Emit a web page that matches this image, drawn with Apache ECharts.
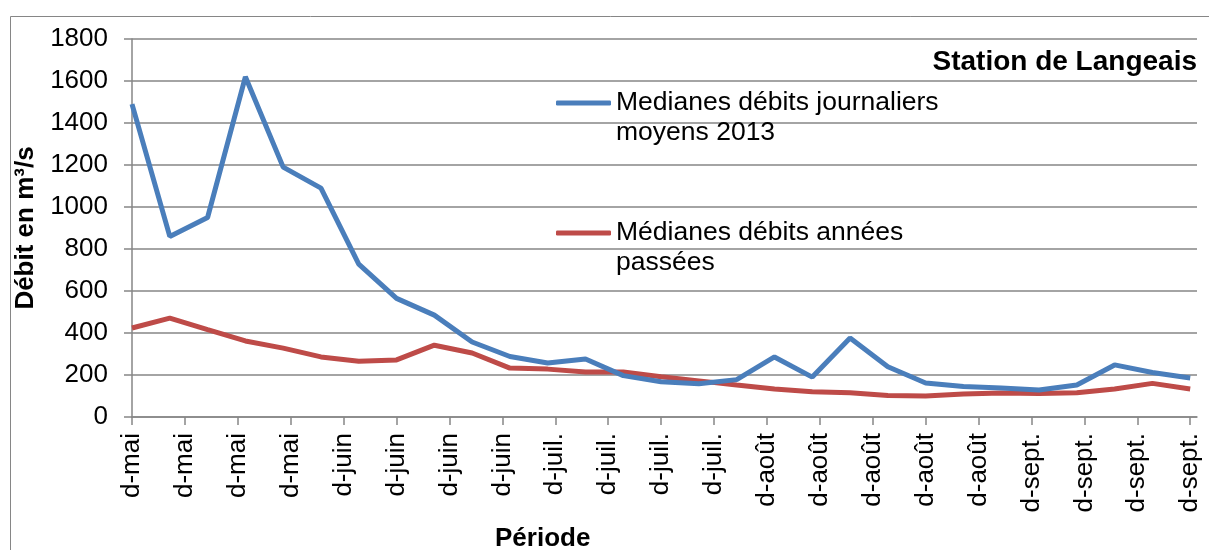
<!DOCTYPE html>
<html>
<head>
<meta charset="utf-8">
<script src="https://cdn.jsdelivr.net/npm/echarts@6/dist/echarts.min.js"></script>
<style>
  html, body { margin: 0; padding: 0; background: #fff; }
  #chart { width: 1209px; height: 550px; }
</style>
</head>
<body>
<div id="chart"></div>
<script>
// données
var periodes = ['d-mai','d-mai','d-mai','d-mai','d-juin','d-juin','d-juin','d-juin',
  'd-juil.','d-juil.','d-juil.','d-juil.','d-août','d-août','d-août','d-août','d-août',
  'd-sept.','d-sept.','d-sept.','d-sept.'];
var debits2013 = [1490, 860, 950, 1620, 1190, 1090, 728, 565, 485, 357, 288, 257, 276, 197, 168,
  158, 178, 286, 190, 376, 239, 162, 145, 138, 129, 152, 248, 212, 186];
var debitsPasses = [424, 471, 416, 362, 328, 286, 265, 272, 342, 305, 233, 228, 214, 214, 192,
  172, 152, 133, 120, 116, 102, 100, 110, 114, 112, 115, 133, 160, 133];
var yTicks = { min: 0, max: 1800, step: 200 };
var pas = 5;      // espacement des points sur l'axe des x
var pasLabel = 7; // espacement des étiquettes

var font = 'Liberation Sans';
var gris = '#868686';

function toPoints(arr){
  var out = [];
  for (var i = 0; i < arr.length; i++) out.push([i * pas, arr[i]]);
  return out;
}
var tickVals = [];
for (var k = 0; k < periodes.length; k++) tickVals.push(k * pasLabel);

// légende : la 1re ligne du texte alignée sur le trait
function legendText(name){ return '\n' + name; }

var chart = echarts.init(document.getElementById('chart'));
var option = {
  animation: false,
  backgroundColor: '#fff',
  title: [
    { text: 'Station de Langeais', right: 12, top: 48, padding: 0,
      textStyle: { fontFamily: font, fontSize: 28, fontWeight: 'bold', color: '#000' } },
    { text: 'Période', left: 495, top: 526, padding: 0,
      textStyle: { fontFamily: font, fontSize: 26, fontWeight: 'bold', color: '#000' } }
  ],
  legend: [
    { data: ['Medianes débits journaliers\nmoyens 2013'], left: 556, top: 58, padding: 0,
      icon: 'roundRect', itemWidth: 55, itemHeight: 5, itemGap: 0, formatter: legendText,
      textStyle: { fontFamily: font, fontSize: 26.5, color: '#000', lineHeight: 30 } },
    { data: ['Médianes débits années\npassées'], left: 556, top: 188, padding: 0,
      icon: 'roundRect', itemWidth: 55, itemHeight: 5, itemGap: 0, formatter: legendText,
      textStyle: { fontFamily: font, fontSize: 26.5, color: '#000', lineHeight: 30 } }
  ],
  graphic: [
    { type: 'rect', shape: { x: 10.5, y: 16.5, width: 1300, height: 600 },
      style: { fill: 'none', stroke: gris, lineWidth: 1 }, silent: true, z: -1 }
  ],
  grid: { left: 132, right: 12, top: 39, bottom: 133 },
  xAxis: {
    type: 'value', min: 0, max: 140.9,
    axisLine: { show: true, lineStyle: { color: gris, width: 1.5 } },
    axisTick: { show: true, length: 8, customValues: tickVals, lineStyle: { color: gris, width: 1.5 } },
    splitLine: { show: false },
    axisLabel: {
      customValues: tickVals, rotate: 90, margin: 16, padding: [10, 0, 0, 0],
      fontFamily: font, fontSize: 26, color: '#000',
      formatter: function(v){ return periodes[Math.round(v / pasLabel)] || ''; }
    }
  },
  yAxis: {
    type: 'value', min: yTicks.min, max: yTicks.max, interval: yTicks.step,
    name: 'Débit en m³/s', nameLocation: 'middle', nameGap: 77,
    nameTextStyle: { fontFamily: font, fontSize: 26, fontWeight: 'bold', color: '#000' },
    axisLine: { show: true, lineStyle: { color: gris, width: 1.5 } },
    axisTick: { show: true, length: 8, lineStyle: { color: gris, width: 1.5 } },
    splitLine: { show: true, lineStyle: { color: gris, width: 1.5 } },
    axisLabel: { margin: 24, fontFamily: font, fontSize: 26, color: '#000',
      formatter: function(v){ return String(v); } }
  },
  series: [
    { name: 'Medianes débits journaliers\nmoyens 2013', type: 'line', data: toPoints(debits2013),
      symbol: 'none', lineStyle: { color: '#4A7EBB', width: 5 }, itemStyle: { color: '#4A7EBB' }, z: 3 },
    { name: 'Médianes débits années\npassées', type: 'line', data: toPoints(debitsPasses),
      symbol: 'none', lineStyle: { color: '#BE4B48', width: 5 }, itemStyle: { color: '#BE4B48' }, z: 2 }
  ]
};
chart.setOption(option);
</script>
</body>
</html>
